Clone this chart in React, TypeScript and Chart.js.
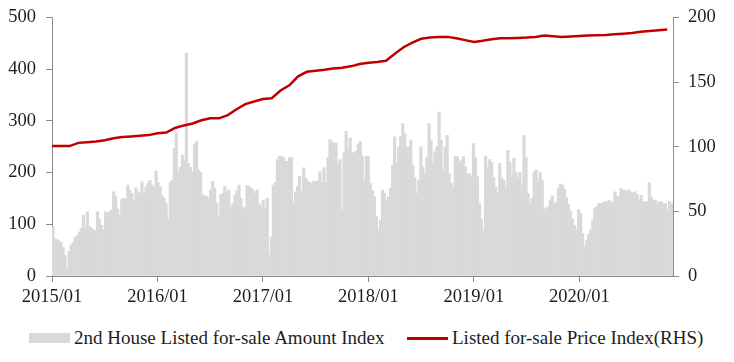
import React, { useEffect, useRef } from 'react';
import Chart from 'chart.js/auto';

// x-axis tick labels (one per January)
const yearLabels = ['2015/01', '2016/01', '2017/01', '2018/01', '2019/01', '2020/01'];

// Weekly "2nd House Listed for-sale Amount Index" (left axis)
const amount2015 = [95, 72, 70, 68, 65, 55, 40, 15, 47, 60, 65, 75, 78, 85, 92, 118, 95, 124, 95, 92, 90, 88, 124, 110, 98, 90, 124, 122, 125, 128, 163, 155, 130, 118, 148, 150, 150, 176, 166, 160, 147, 170, 163, 160, 182, 160, 172, 179, 185, 176, 172, 203];
const amount2016 = [180, 173, 155, 150, 140, 108, 180, 185, 247, 277, 200, 210, 234, 225, 431, 218, 210, 202, 255, 260, 205, 200, 157, 155, 154, 150, 166, 183, 170, 141, 115, 157, 160, 173, 160, 166, 134, 140, 157, 165, 176, 150, 134, 130, 175, 173, 170, 166, 160, 166, 140, 134];
const amount2017 = [147, 131, 150, 41, 76, 176, 180, 225, 232, 232, 229, 222, 222, 229, 229, 141, 163, 173, 193, 163, 209, 190, 183, 180, 180, 183, 183, 183, 202, 180, 209, 180, 229, 264, 260, 257, 257, 218, 225, 128, 238, 280, 244, 267, 238, 238, 241, 255, 260, 232, 186, 232];
const amount2018 = [231, 179, 165, 153, 115, 89, 108, 166, 160, 147, 153, 170, 214, 269, 218, 250, 270, 295, 276, 250, 250, 263, 214, 190, 160, 185, 250, 211, 198, 230, 295, 263, 218, 240, 250, 317, 263, 205, 250, 272, 198, 180, 173, 231, 231, 220, 224, 231, 211, 198, 198, 192];
const amount2019 = [256, 230, 192, 140, 110, 89, 232, 210, 225, 220, 190, 172, 162, 218, 190, 185, 170, 243, 220, 195, 228, 200, 190, 200, 176, 272, 230, 160, 140, 150, 200, 205, 180, 200, 185, 128, 132, 134, 147, 155, 140, 143, 170, 178, 176, 168, 152, 138, 125, 110, 98, 90];
const amount2020 = [128, 121, 82, 57, 70, 80, 89, 108, 131, 135, 140, 140, 142, 144, 143, 146, 144, 142, 163, 155, 153, 169, 166, 166, 163, 166, 162, 160, 163, 158, 147, 156, 144, 144, 144, 180, 153, 147, 147, 140, 144, 144, 140, 140, 128, 144, 140];

// Monthly "Listed for-sale Price Index(RHS)" (right axis), 2015/01 .. 2020/11
const priceIndex = [
  100.5, 100.5, 100.5, 103, 103.5, 104, 105, 106.5, 107.5, 108, 108.5, 109,
  110.5, 111, 114.5, 116.5, 118, 120.5, 122, 122, 124.5, 129, 133, 135,
  137, 137.5, 143.5, 147.5, 154.5, 158, 158.8, 159.5, 160.5, 161.2, 162.2, 164,
  165, 165.5, 166.5, 172, 177, 180.5, 183.5, 184.5, 185, 185, 184, 182.5,
  181, 182, 183.2, 184, 184, 184.2, 184.5, 185, 186, 185.5, 185, 185.3,
  185.6, 186, 186.2, 186.5, 187, 187.5, 188, 189, 189.6, 190.2, 190.7,
];

const amountLabel = '2nd House Listed for-sale Amount Index';
const priceLabel = 'Listed for-sale Price Index(RHS)';

const WEEKS_PER_YEAR = 52.18;
const amountIndex = [...amount2015, ...amount2016, ...amount2017, ...amount2018, ...amount2019, ...amount2020];

const FONT_FAMILY = '"Liberation Serif", "Times New Roman", serif';
const TEXT_COLOR = '#1e1e1e';
const AXIS_COLOR = '#8c8c8c';
const BAR_COLOR = '#d9d9d9';
const LINE_COLOR = '#c00000';

export default function App() {
  const ref = useRef<HTMLCanvasElement>(null);

  useEffect(() => {
    const barData = amountIndex.map((v, i) => ({ x: (i + 0.5) * 12 / WEEKS_PER_YEAR, y: v }));
    const lineData = priceIndex.map((v, i) => ({ x: i, y: v }));
    const font = { family: FONT_FAMILY, size: 18.5, lineHeight: 1.0 };
    const grid = { drawOnChartArea: false, tickLength: 6, color: AXIS_COLOR, lineWidth: 1, offset: false };
    const border = { color: AXIS_COLOR, width: 1 };
    const fitVertical = (width: number) => (s: any) => {
      s.width = width;
      s.paddingTop = 9.5;
      s.paddingBottom = 0;
    };

    const chart = new Chart(ref.current as HTMLCanvasElement, {
      type: 'bar',
      data: {
        datasets: [
          {
            type: 'bar',
            label: amountLabel,
            data: barData as any,
            backgroundColor: BAR_COLOR,
            borderWidth: 0,
            barThickness: 2.5,
            grouped: false,
            yAxisID: 'y',
            order: 2,
          } as any,
          {
            type: 'line',
            label: priceLabel,
            data: lineData as any,
            borderColor: LINE_COLOR,
            backgroundColor: LINE_COLOR,
            borderWidth: 2.5,
            pointRadius: 0,
            tension: 0,
            yAxisID: 'y1',
            order: 1,
          } as any,
        ],
      },
      options: {
        animation: false,
        responsive: false,
        maintainAspectRatio: false,
        layout: { padding: { top: 0, left: 0, right: 0, bottom: 0 } },
        plugins: { legend: { display: false }, tooltip: { enabled: false } },
        scales: {
          x: {
            type: 'linear',
            offset: false,
            min: 0,
            max: 70.65,
            afterBuildTicks: (s: any) => {
              s.ticks = yearLabels.map((_, i) => ({ value: i * 12 }));
            },
            ticks: {
              callback: (v: any) => yearLabels[Math.round(Number(v) / 12)],
              font,
              color: TEXT_COLOR,
              padding: 6,
              maxRotation: 0,
              autoSkip: false,
            },
            grid,
            border,
            afterFit: (s: any) => {
              s.height = 37;
            },
          },
          y: {
            position: 'left',
            min: 0,
            max: 500,
            ticks: { stepSize: 100, font, color: TEXT_COLOR, padding: 10 },
            grid,
            border,
            afterFit: fitVertical(44),
          },
          y1: {
            position: 'right',
            min: 0,
            max: 200,
            ticks: { stepSize: 50, font, color: TEXT_COLOR, padding: 9 },
            grid,
            border,
            afterFit: fitVertical(53),
          },
        },
      } as any,
    });
    return () => chart.destroy();
  }, []);

  const textStyle: React.CSSProperties = {
    position: 'absolute',
    fontFamily: FONT_FAMILY,
    fontSize: 19,
    lineHeight: '20px',
    color: TEXT_COLOR,
    whiteSpace: 'nowrap',
    top: 319.5,
  };

  return (
    <div style={{ position: 'relative', width: 718, height: 346, overflow: 'hidden' }}>
      <canvas ref={ref} width={718} height={305} style={{ display: 'block', width: 718, height: 305 }} />
      <div style={{ position: 'absolute', left: 21, top: 325, width: 41, height: 10, background: BAR_COLOR }} />
      <span style={{ ...textStyle, left: 66 }}>{amountLabel}</span>
      <div style={{ position: 'absolute', left: 399, top: 328.5, width: 41, height: 3, background: LINE_COLOR }} />
      <span style={{ ...textStyle, left: 444 }}>{priceLabel}</span>
    </div>
  );
}
